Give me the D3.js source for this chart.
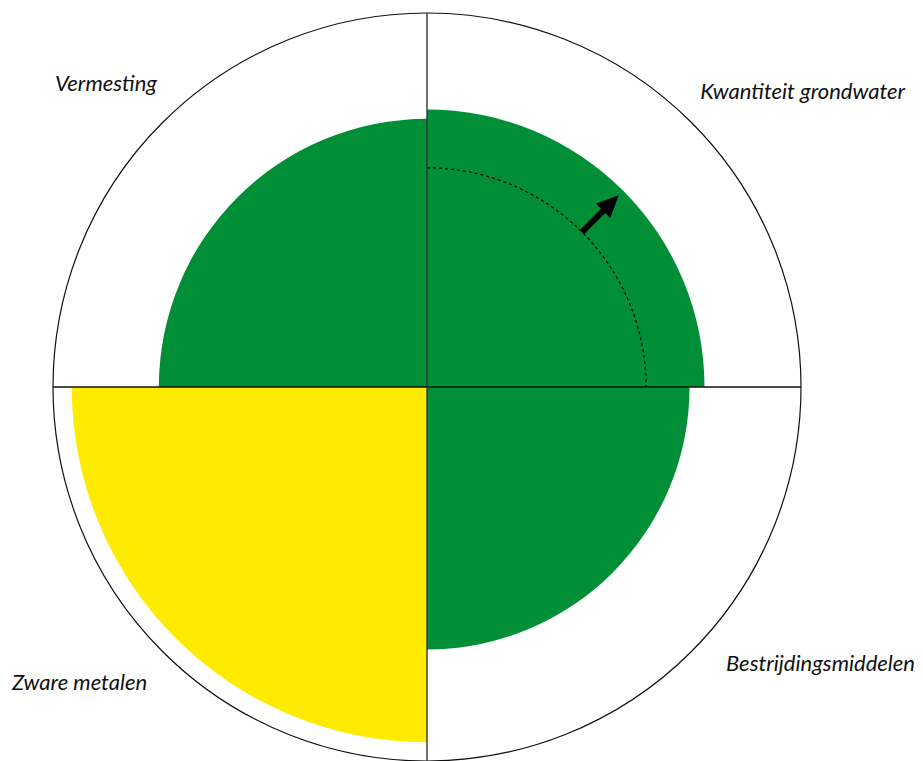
<!DOCTYPE html>
<html>
<head>
<meta charset="utf-8">
<script src="https://cdn.jsdelivr.net/npm/d3@7"></script>
<style>
  body { margin: 0; background: #fff; }
  text { font-family: Lato, "Open Sans", sans-serif; font-style: italic; font-size: 22px; fill: #111; }
</style>
</head>
<body>
<div id="chart"></div>
<script>
var w = 923
var h = 761
var cx = 427
var cy = 387
var R = 374

// quadrant data (clockwise from top-left)
var categories = ["Vermesting", "Kwantiteit grondwater", "Bestrijdingsmiddelen", "Zware metalen"]
var values = [71.7, 74.2, 70.2, 95]        // % of full radius
var colors = ["#008f36", "#008f36", "#008f36", "#ffeb00"]
var startAngles = [-90, 0, 90, 180]          // degrees
var targetValue = 58.6                       // dashed reference for grondwater
var arrowFrom = 58.6, arrowTo = 72.5

var svg = d3.select("#chart").append("svg").attr("width", w).attr("height", h)

var r = d3.scaleLinear().domain([0, 100]).range([0, R])

var g = svg.append("g").attr("transform", "translate(" + cx + "," + cy + ")")

var arc = d3.arc().innerRadius(0)

g.selectAll("path.q")
    .data(values)
    .enter()
    .append("path")
    .attr("class", "q")
    .attr("fill", function(d, i) { return colors[i] })
    .attr("d", function(d, i) {
        var a = startAngles[i] * Math.PI / 180
        return arc({ outerRadius: r(d), startAngle: a, endAngle: a + Math.PI / 2 })
    })

// dashed arc in grondwater quadrant
g.append("path")
    .attr("fill", "none")
    .attr("stroke", "#000")
    .attr("stroke-width", 1.3)
    .attr("stroke-dasharray", "3,3")
    .attr("d", "M0," + (-r(targetValue)) + "A" + r(targetValue) + "," + r(targetValue) + " 0 0,1 " + r(targetValue) + ",0")

// arrow at 45 degrees
var ang = -Math.PI / 4
var x1 = r(arrowFrom) * Math.cos(ang), y1 = r(arrowFrom) * Math.sin(ang)
var x2 = r(arrowTo) * Math.cos(ang), y2 = r(arrowTo) * Math.sin(ang)
var headLen = 22, headW = 10
var ux = Math.cos(ang), uy = Math.sin(ang)
var bx = x2 - ux * headLen, by = y2 - uy * headLen
g.append("line")
    .attr("x1", x1).attr("y1", y1).attr("x2", bx + ux * 2).attr("y2", by + uy * 2)
    .attr("stroke", "#000").attr("stroke-width", 6)
g.append("path")
    .attr("fill", "#000")
    .attr("d", "M" + x2 + "," + y2 +
        "L" + (bx - uy * headW) + "," + (by + ux * headW) +
        "L" + (bx + uy * headW) + "," + (by - ux * headW) + "Z")

// outer circle and axes
g.append("circle").attr("r", R).attr("fill", "none").attr("stroke", "#111").attr("stroke-width", 1.2)
g.append("line").attr("x1", -R).attr("x2", R).attr("y1", 0).attr("y2", 0)
    .attr("stroke", "#111").attr("stroke-width", 1.4)
g.append("line").attr("x1", 0).attr("x2", 0).attr("y1", -R).attr("y2", h - cy)
    .attr("stroke", "#333").attr("stroke-width", 1.4)

// labels
var labelPos = [[55, 91, "start"], [905, 99, "end"], [915, 671, "end"], [12, 690, "start"]]
svg.selectAll("text.lab")
    .data(categories)
    .enter()
    .append("text")
    .attr("class", "lab")
    .attr("x", function(d, i) { return labelPos[i][0] })
    .attr("y", function(d, i) { return labelPos[i][1] })
    .attr("text-anchor", function(d, i) { return labelPos[i][2] })
    .text(function(d) { return d })
</script>
</body>
</html>
